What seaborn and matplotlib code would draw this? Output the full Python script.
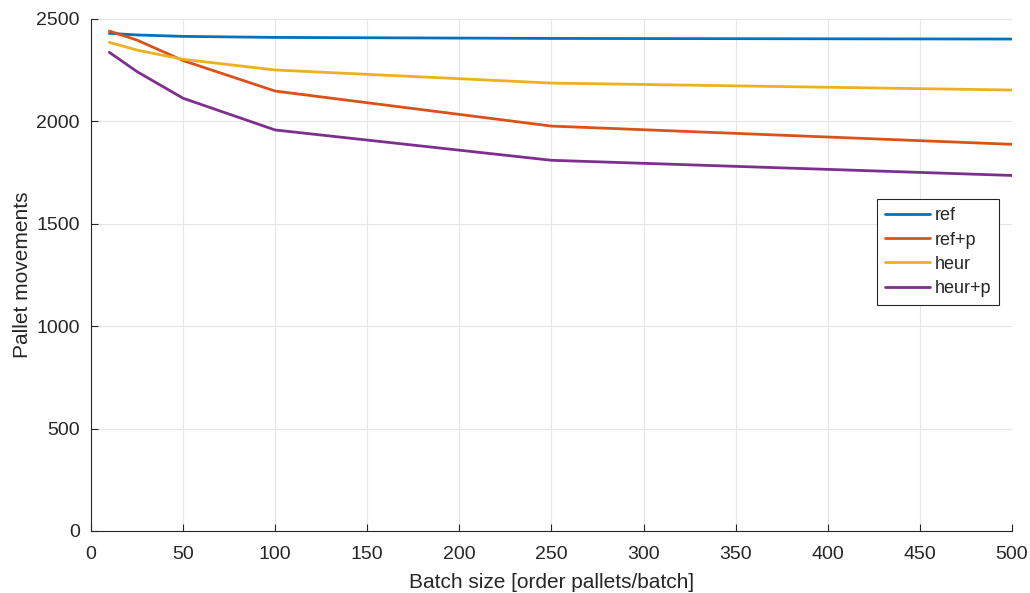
import pandas as pd
import numpy as np
import matplotlib.pyplot as plt
import seaborn as sns

batch = [10, 25, 50, 100, 250, 500]
ref = [2430, 2422, 2415, 2410, 2405, 2402]
ref_p = [2441, 2397, 2297, 2148, 1977, 1888]
heur = [2386, 2348, 2303, 2251, 2187, 2153]
heur_p = [2337, 2243, 2113, 1958, 1810, 1736]
names = ['ref', 'ref+p', 'heur', 'heur+p']
colors = ['#0072BD', '#D95319', '#EDB120', '#7E2F8E']

df = pd.DataFrame({'batch': batch * 4,
                   'moves': ref + ref_p + heur + heur_p,
                   'method': np.repeat(names, len(batch))})

sns.set_style('whitegrid')
plt.rcParams['font.family'] = ['Liberation Sans', 'DejaVu Sans']

fig = plt.figure(figsize=(10.3, 5.93), dpi=100)
ax = fig.add_axes([0.0883, 0.1046, 0.8942, 0.8634])
sns.lineplot(data=df, x='batch', y='moves', hue='method', hue_order=names,
             palette=colors, linewidth=2, ax=ax)

ax.set_xlim(0, 500)
ax.set_ylim(0, 2500)
ax.set_xticks(np.arange(0, 501, 50))
ax.set_yticks(np.arange(0, 2501, 500))
ax.grid(True, color='#e6e6e6', linewidth=0.8)
for s in ['top', 'right']:
    ax.spines[s].set_visible(False)
for s in ['left', 'bottom']:
    ax.spines[s].set_color('#262626')
    ax.spines[s].set_linewidth(0.8)
ax.tick_params(direction='in', length=5, width=0.8, color='#262626',
               labelsize=14, labelcolor='#262626', bottom=True, left=True)
ax.tick_params(axis='x', pad=11)
ax.tick_params(axis='y', pad=8)
ax.set_xlabel('Batch size [order pallets/batch]', fontsize=15, color='#262626', labelpad=7)
ax.set_ylabel('Pallet movements', fontsize=15, color='#262626', labelpad=3)

leg = ax.legend(loc='upper left', bbox_to_anchor=(0.853, 0.648), fontsize=13,
                frameon=True, fancybox=False, handlelength=2.5, borderpad=0.45,
                labelspacing=0.4, handletextpad=0.25, borderaxespad=0)
leg.get_frame().set_edgecolor('#262626')
leg.get_frame().set_linewidth(0.8)
leg.get_frame().set_alpha(1)
for h in leg.get_lines():
    h.set_linewidth(2)

fig.savefig('out.png', dpi=100)
